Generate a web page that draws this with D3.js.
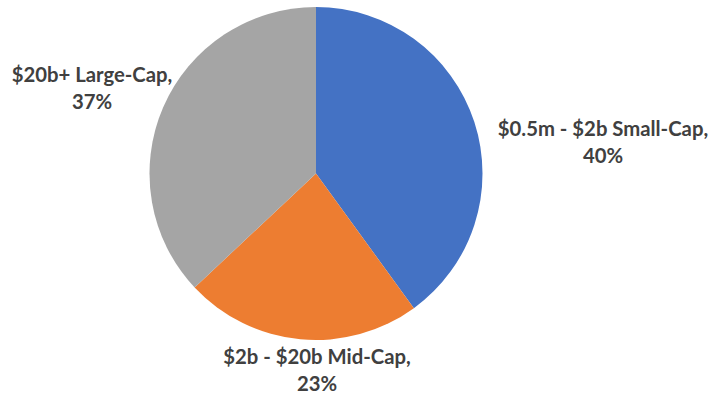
<!DOCTYPE html>
<html>
<head>
<meta charset="utf-8">
<script src="https://cdn.jsdelivr.net/npm/d3@7"></script>
<style>
  html, body { margin: 0; padding: 0; background: #fff; }
  svg { display: block; }
  text { font-family: Lato, "Open Sans", sans-serif; font-weight: bold; fill: #404040; }
</style>
</head>
<body>
<svg id="chart" width="721" height="396"></svg>
<script>
// Market-cap allocation (percent)
const categories = ["$0.5m - $2b Small-Cap", "$2b - $20b Mid-Cap", "$20b+ Large-Cap"];
const values = [40, 23, 37];
const colors = ["#4472C4", "#ED7D31", "#A5A5A5"];
// label anchor (centre x, first baseline y) for each slice
const labelPos = [[603, 136], [317, 364], [92, 82]];

const width = 721, height = 396;
const cx = 316, cy = 173.5, radius = 166.5;

const svg = d3.select("#chart");
const g = svg.append("g").attr("transform", `translate(${cx},${cy})`);

const data = categories.map((c, i) => ({ category: c, value: values[i], color: colors[i], pos: labelPos[i] }));

const pie = d3.pie().value(d => d.value).sort(null);
const arc = d3.arc().innerRadius(0).outerRadius(radius);

g.selectAll("path")
  .data(pie(data))
  .join("path")
  .attr("d", arc)
  .attr("fill", d => d.data.color);

const labels = svg.selectAll("text.lbl")
  .data(data)
  .join("text")
  .attr("class", "lbl")
  .attr("text-anchor", "middle")
  .attr("font-size", 20.3);

labels.append("tspan")
  .attr("x", d => d.pos[0])
  .attr("y", d => d.pos[1])
  .text(d => d.category + ",");

labels.append("tspan")
  .attr("x", d => d.pos[0])
  .attr("y", d => d.pos[1] + 26.5)
  .text(d => d.value + "%");
</script>
</body>
</html>
